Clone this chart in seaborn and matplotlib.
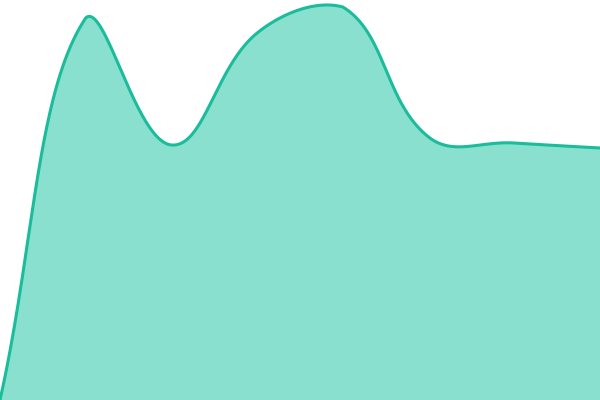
import numpy as np
import pandas as pd
import matplotlib
matplotlib.use("Agg")
import matplotlib.pyplot as plt
import seaborn as sns

# Data: eight evenly spaced categories, values on a 0-400 scale
categories = ["c1", "c2", "c3", "c4", "c5", "c6", "c7", "c8"]
values = [0, 382, 255, 367, 393, 263, 257, 252]

LINE = "#1abc9c"
FILL = "#8ae0cf"
TENSION = 0.4
X_MAX, Y_MAX = 600, 400


def spline_path(xs, ys, t, n=80):
    """Tension spline through the points, control points capped to the plot area."""
    pts = np.column_stack([xs, ys]).astype(float)
    k = len(pts)
    prev_cp, next_cp = [], []
    for i in range(k):
        cur = pts[i]
        prv = pts[i - 1] if i > 0 else cur
        nxt = pts[i + 1] if i < k - 1 else cur
        d01 = np.linalg.norm(cur - prv)
        d12 = np.linalg.norm(nxt - cur)
        s01 = d01 / (d01 + d12)
        s12 = d12 / (d01 + d12)
        pc = cur - t * s01 * (nxt - prv)
        nc = cur + t * s12 * (nxt - prv)
        lo, hi = np.array([0.0, 0.0]), np.array([X_MAX, Y_MAX])
        prev_cp.append(np.clip(pc, lo, hi))
        next_cp.append(np.clip(nc, lo, hi))
    segs = []
    for i in range(k - 1):
        u = np.linspace(0, 1, n, endpoint=(i == k - 2))[:, None]
        p0, p1, p2, p3 = pts[i], next_cp[i], prev_cp[i + 1], pts[i + 1]
        segs.append((1 - u) ** 3 * p0 + 3 * (1 - u) ** 2 * u * p1
                    + 3 * (1 - u) * u ** 2 * p2 + u ** 3 * p3)
    return np.vstack(segs)


xpos = np.linspace(0, X_MAX, len(categories))
curve = spline_path(xpos, values, TENSION)
df = pd.DataFrame({"x": curve[:, 0], "y": curve[:, 1]})

sns.set_theme(style="white")
fig = plt.figure(figsize=(6, 4), dpi=100)
ax = fig.add_axes([0, 0, 1, 1])
ax.fill_between(df["x"], df["y"], 0, color=FILL, linewidth=0)
sns.lineplot(data=df, x="x", y="y", ax=ax, color=LINE, linewidth=2.2, sort=False)
ax.set_xlim(0, X_MAX)
ax.set_ylim(0, Y_MAX)
ax.axis("off")
fig.savefig("out.png", dpi=100)
